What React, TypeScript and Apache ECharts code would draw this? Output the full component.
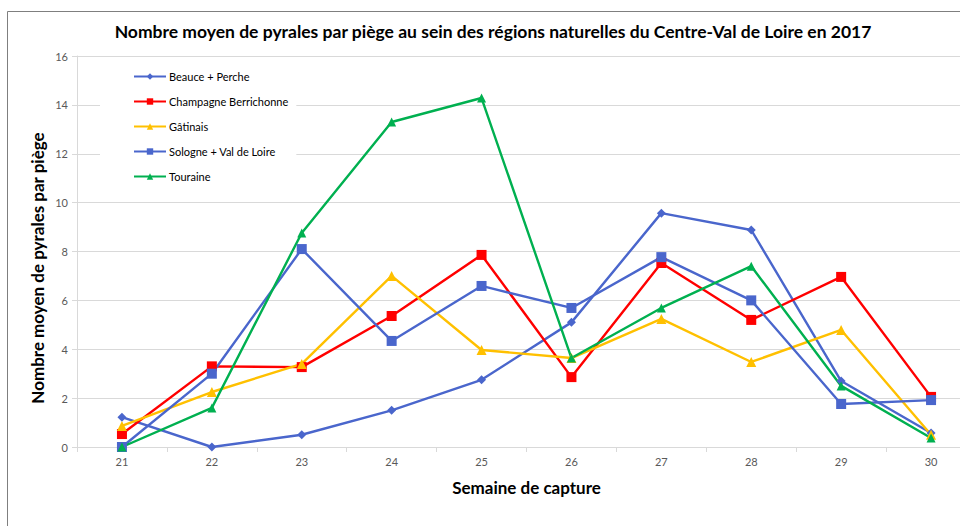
import React, { useEffect, useRef } from "react";
import * as echarts from "echarts";

const weeks = ["21", "22", "23", "24", "25", "26", "27", "28", "29", "30"];
const beauce = [1.22, 0, 0.5, 1.5, 2.75, 5.1, 9.57, 8.88, 2.7, 0.57];
const champagne = [0.53, 3.3, 3.27, 5.36, 7.86, 2.86, 7.53, 5.2, 6.96, 2.05];
const gatinais = [0.86, 2.25, 3.4, 7.0, 3.97, 3.64, 5.24, 3.48, 4.79, 0.5];
const sologne = [0, 3.0, 8.1, 4.34, 6.59, 5.69, 7.77, 6.0, 1.76, 1.92];
const touraine = [0, 1.6, 8.76, 13.3, 14.28, 3.64, 5.69, 7.4, 2.5, 0.37];

const FONT = "Lato, 'Liberation Sans', sans-serif";

export default function App() {
  const ref = useRef<HTMLDivElement>(null);
  useEffect(() => {
    if (!ref.current) return;
    const chart = echarts.init(ref.current, undefined, { renderer: "svg" });
    const mk = (name: string, data: number[], color: string, symbol: string, size: number) => ({
      name,
      type: "line",
      data,
      symbol,
      symbolSize: size,
      showSymbol: true,
      lineStyle: { color, width: 2.4 },
      itemStyle: { color, borderWidth: 0 },
      z: 3,
    });
    chart.setOption({
      animation: false,
      backgroundColor: "#ffffff",
      textStyle: { fontFamily: FONT },
      graphic: [
        {
          type: "rect",
          shape: { x: 7.5, y: 11.5, width: 1100, height: 600 },
          style: { fill: "none", stroke: "#7f7f7f", lineWidth: 1 },
          silent: true,
          z: -10,
        },
        {
          type: "text",
          x: 493,
          y: 31,
          style: {
            text: "Nombre moyen de pyrales par piège au sein des régions naturelles du Centre-Val de Loire en 2017",
            fontFamily: FONT,
            fontSize: 17.5,
            fontWeight: "bold",
            fill: "#000000",
            align: "center",
            verticalAlign: "middle",
          },
        },
        {
          type: "text",
          x: 37,
          y: 268,
          rotation: Math.PI / 2,
          style: {
            text: "Nombre moyen de pyrales par piège",
            fontFamily: FONT,
            fontSize: 17,
            fontWeight: "bold",
            fill: "#000000",
            align: "center",
            verticalAlign: "middle",
          },
        },
      ],
      grid: { left: 77, right: 24, top: 56, bottom: 79, containLabel: false },
      legend: {
        orient: "vertical",
        left: 100,
        top: 65,
        padding: [6, 8, 6, 33],
        backgroundColor: "#ffffff",
        itemWidth: 32,
        itemHeight: 8,
        itemGap: 14,
        textStyle: { fontFamily: FONT, fontSize: 11, color: "#000000", padding: [0, 0, 0, -2] },
        data: ["Beauce + Perche", "Champagne Berrichonne", "Gâtinais", "Sologne + Val de Loire", "Touraine"],
        z: 5,
      },
      xAxis: {
        type: "category",
        data: weeks,
        boundaryGap: true,
        name: "Semaine de capture",
        nameLocation: "middle",
        nameGap: 32,
        nameTextStyle: { fontFamily: FONT, fontSize: 17, fontWeight: "bold", color: "#000000" },
        axisLine: { show: true, lineStyle: { color: "#d9d9d9", width: 1 } },
        axisTick: { show: true, length: 5, lineStyle: { color: "#d9d9d9" } },
        axisLabel: { fontFamily: FONT, fontSize: 11, color: "#595959", margin: 9 },
        splitLine: { show: false },
      },
      yAxis: {
        type: "value",
        min: 0,
        max: 16,
        interval: 2,
        axisLine: { show: true, lineStyle: { color: "#d9d9d9", width: 1 } },
        axisTick: { show: true, length: 5, lineStyle: { color: "#d9d9d9" } },
        axisLabel: { fontFamily: FONT, fontSize: 11, color: "#595959", margin: 9 },
        splitLine: { show: true, lineStyle: { color: "#d9d9d9", width: 1 } },
      },
      series: [
        mk("Beauce + Perche", beauce, "#4a66cc", "diamond", 9),
        mk("Champagne Berrichonne", champagne, "#ff0000", "rect", 10),
        mk("Gâtinais", gatinais, "#ffc000", "triangle", 10),
        mk("Sologne + Val de Loire", sologne, "#4a66cc", "rect", 10),
        mk("Touraine", touraine, "#00b050", "triangle", 9),
      ],
    });
    return () => chart.dispose();
  }, []);
  return (
    <div style={{ position: "fixed", left: 0, top: 0, width: 960, height: 526, overflow: "hidden", background: "#fff" }}>
      <div ref={ref} style={{ width: 1000, height: 526 }} />
    </div>
  );
}
